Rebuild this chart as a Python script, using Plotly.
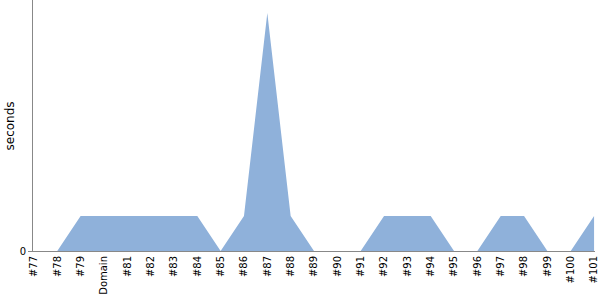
import plotly.graph_objects as go

categories = ["#77", "#78", "#79", "Domain", "#81", "#82", "#83", "#84", "#85", "#86",
              "#87", "#88", "#89", "#90", "#91", "#92", "#93", "#94", "#95", "#96",
              "#97", "#98", "#99", "#100", "#101"]
seconds = [0, 0, 1, 1, 1, 1, 1, 1, 0, 1,
           6.8, 1, 0, 0, 0, 1, 1, 1, 0, 0,
           1, 1, 0, 0, 1]
y_ticks = [0]

fig = go.Figure(go.Scatter(
    x=categories, y=seconds, mode="lines", fill="tozeroy",
    line=dict(color="#8fb1da", width=0), fillcolor="#8fb1da",
    hoverinfo="x+y",
))

fig.update_layout(
    width=600, height=300,
    margin=dict(l=33, r=5, t=0, b=49, pad=0),
    paper_bgcolor="white", plot_bgcolor="white",
    font=dict(family="DejaVu Sans", size=11, color="#000"),
    showlegend=False,
    annotations=[dict(
        text="seconds", textangle=-90, xref="paper", yref="paper",
        x=-0.041, y=0.5, xanchor="center", yanchor="middle",
        showarrow=False, font=dict(size=12),
    )],
)
fig.update_xaxes(
    type="category", range=[-0.04, 24.04], tickangle=-90,
    showline=True, linecolor="#888", linewidth=1, showgrid=False,
    ticks="", zeroline=False, tickfont=dict(size=10),
)
fig.update_yaxes(
    range=[0, 7.17], tickvals=y_ticks, ticktext=["0"],
    showline=True, linecolor="#888", linewidth=1, showgrid=False,
    ticks="outside", ticklen=4, tickcolor="#888", zeroline=False,
    tickfont=dict(size=10),
)

fig.write_html("out.html")
